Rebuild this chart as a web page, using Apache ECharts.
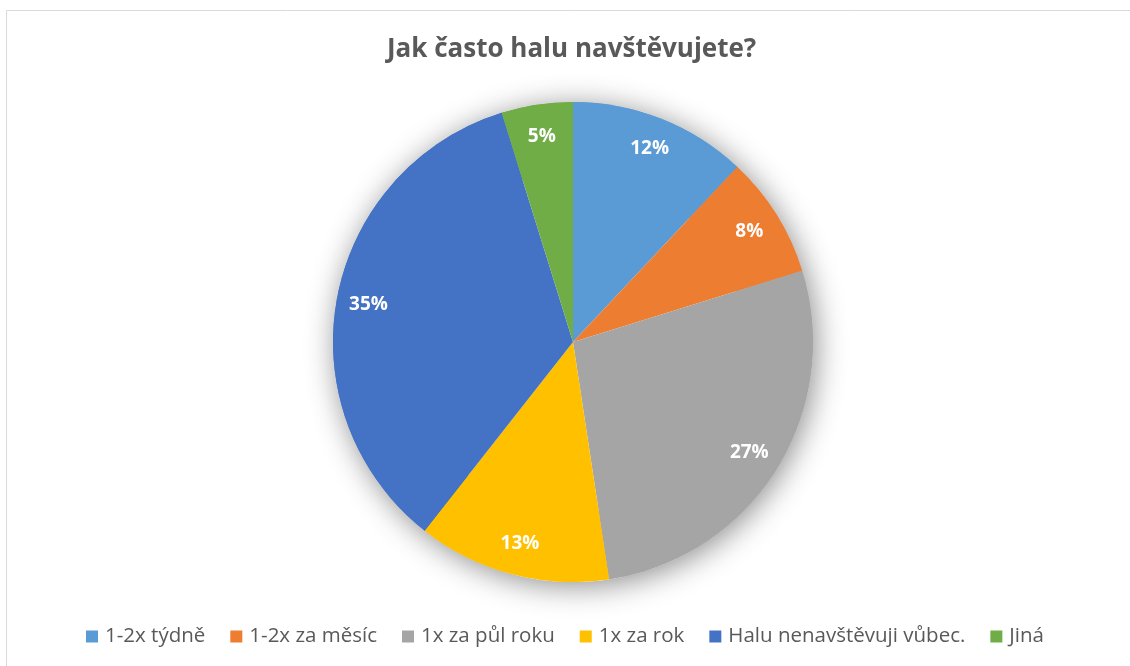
<!DOCTYPE html>
<html><head><meta charset="utf-8">
<script src="https://cdn.jsdelivr.net/npm/echarts@6/dist/echarts.min.js"></script>
<style>html,body{margin:0;padding:0;background:#fff}#c{width:1130px;height:666px}</style>
</head><body><div id="c"></div>
<script>
const categories = ['1-2x týdně', '1-2x za měsíc', '1x za půl roku', '1x za rok', 'Halu nenavštěvuji vůbec.', 'Jiná'];
const values = [12, 8.2, 27.4, 13, 34.6, 4.8];
const colors = ['#5b9bd5', '#ed7d31', '#a5a5a5', '#ffc000', '#4472c4', '#70ad47'];
const titleText = 'Jak často halu navštěvujete?';

const data = categories.map((n, i) => ({ name: n, value: values[i], itemStyle: { color: colors[i] } }));
const font = '"Open Sans", "Noto Sans", sans-serif';
const chart = echarts.init(document.getElementById('c'));
chart.setOption({
  animation: false,
  title: { text: titleText, left: 382, top: 32, textStyle: { fontFamily: font, fontSize: 26, fontWeight: 'bold', color: '#595959' } },
  legend: {
    data: categories, top: 621, left: 'center', icon: 'rect', itemWidth: 12, itemHeight: 12, itemGap: 25,
    textStyle: { fontFamily: font, fontSize: 20.5, color: '#595959', padding: [0, 0, 0, 2] }
  },
  graphic: [{ type: 'rect', shape: { x: 6.5, y: 10.5, width: 1200, height: 700 }, style: { fill: 'none', stroke: '#d9d9d9', lineWidth: 1 }, silent: true }],
  series: [
    { type: 'pie', center: [573, 342], radius: [0, 240], silent: true, z: 1, startAngle: 90,
      data: [{ name: '__bg', value: 1, itemStyle: { color: '#fff', shadowBlur: 30, shadowColor: 'rgba(0,0,0,0.45)', shadowOffsetX: 3, shadowOffsetY: 4 } }],
      label: { show: false }, labelLine: { show: false } },
    { type: 'pie', center: [573, 342], radius: [0, 240], startAngle: 90, clockwise: true, z: 2,
      data: data, label: { show: false }, labelLine: { show: false }, itemStyle: { borderWidth: 0 } },
    { type: 'pie', center: [573, 342], radius: [170, 240], startAngle: 90, clockwise: true, z: 3,
      data: data, labelLine: { show: false }, itemStyle: { borderWidth: 0 },
      label: { show: true, position: 'inside', formatter: p => Math.round(p.percent) + '%', fontFamily: font, fontSize: 19, fontWeight: 'bold', color: '#fff' } }
  ]
});
</script></body></html>
